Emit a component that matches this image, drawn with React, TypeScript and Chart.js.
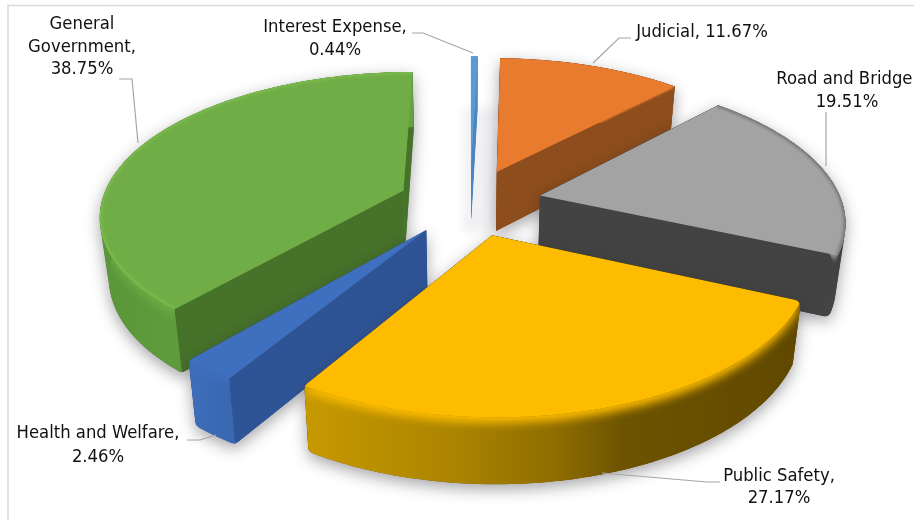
import React, { useEffect, useRef } from "react";
import { Chart, registerables } from "chart.js";

Chart.register(...registerables);

// Expenditure shares by department, in percent.
const categories = [
  "Interest Expense",
  "Judicial",
  "Road and Bridge",
  "Public Safety",
  "Health and Welfare",
  "General Government",
];
const shares = [0.44, 11.67, 19.51, 27.17, 2.46, 38.75];
const faceColors = ["#5B9BD5", "#E97B2F", "#A3A3A3", "#FDBC00", "#3F6FBF", "#70AD47"];

// Painter's order for the exploded slices, far to near.
const drawOrder = [0, 1, 5, 2, 4, 3];

const FONT = '18.3px "DejaVu Sans Condensed", "DejaVu Sans", sans-serif';

// Perspective of the tilted pie.
const view = { cx: 470, cy: 202, ax: 302, by: 141, k: 0.16, depth: 60, explode: 0.238 };

// Wall shading per slice: side-wall colour, x-positioned stops for the rim wall, bevel softness, edge light.
const walls = [
  { side: "#4A86C0", rim: [[460, "#4A86C0"], [480, "#4A86C0"]], bevel: 1, edge: "" },
  { side: "#8E4D1C", rim: [[500, "#8E4D1C"], [680, "#8E4D1C"]], bevel: 1, edge: "" },
  { side: "#434343", rim: [[780, "#5A5A5A"], [850, "#3C3C3C"]], bevel: 3, edge: "#757575" },
  { side: "#7A5C00", rim: [[307, "#C79900"], [454, "#AB8400"], [554, "#8F6E00"], [624, "#6D5300"], [800, "#604800"]], bevel: 5, edge: "" },
  { side: "#2F5496", rim: [[190, "#3E6DBA"], [240, "#3866B0"]], bevel: 4, edge: "" },
  { side: "#47722A", rim: [[100, "#5A9638"], [185, "#5F9D3E"]], bevel: 5, edge: "#7DBC4F" },
];

// Label anchors and leader polylines, in slice order.
const callouts = [
  { x: 335, y: [27, 50], lines: ["Interest Expense,", "0.44%"], leader: [[412, 33], [423, 33], [473, 53]] },
  { x: 702, y: [32], lines: ["Judicial, 11.67%"], leader: [[631, 38], [619, 38], [593, 63]] },
  { x: 847, y: [79, 102], lines: ["Road and Bridge,", "19.51%"], leader: [[826, 112], [826, 166]] },
  { x: 779, y: [476, 498], lines: ["Public Safety,", "27.17%"], leader: [[720, 482], [707, 482], [602, 473]] },
  { x: 98, y: [433, 457], lines: ["Health and Welfare,", "2.46%"], leader: [[187, 440], [200, 440], [216, 435]] },
  { x: 82, y: [24, 47, 69], lines: ["General", "Government,", "38.75%"], leader: [[119, 79], [132, 79], [138, 143]] },
];

const DEG = Math.PI / 180;

function project(mid: number, angle: number, r: number, z: number) {
  const X = view.explode * Math.sin(mid) + r * Math.sin(angle);
  const Y = -view.explode * Math.cos(mid) - r * Math.cos(angle);
  const w = 1 / (1 - view.k * Y);
  const zf = z / view.depth;
  const sx = view.cx + view.ax * X * w * (1 - 0.025 * zf);
  const sy = view.cy + view.by * Y * w + z * Math.sqrt(w);
  return [sx, sy];
}

function tracePoly(ctx: CanvasRenderingContext2D, pts: number[][]) {
  ctx.beginPath();
  pts.forEach((p, i) => (i ? ctx.lineTo(p[0], p[1]) : ctx.moveTo(p[0], p[1])));
  ctx.closePath();
}

function fillPoly(ctx: CanvasRenderingContext2D, pts: number[][], fill: string | CanvasGradient) {
  tracePoly(ctx, pts);
  ctx.fillStyle = fill;
  ctx.fill();
}

function arcPoints(mid: number, a0: number, a1: number, z: number, r = 1) {
  const n = Math.max(2, Math.ceil((a1 - a0) / DEG));
  const pts: number[][] = [];
  for (let i = 0; i <= n; i++) pts.push(project(mid, a0 + ((a1 - a0) * i) / n, r, z));
  return pts;
}

// Monotone-chain convex hull, used for the outline of a whole slice.
function hull(points: number[][]) {
  const p = [...points].sort((a, b) => a[0] - b[0] || a[1] - b[1]);
  const cross = (o: number[], a: number[], b: number[]) =>
    (a[0] - o[0]) * (b[1] - o[1]) - (a[1] - o[1]) * (b[0] - o[0]);
  const half = (list: number[][]) => {
    const out: number[][] = [];
    for (const q of list) {
      while (out.length >= 2 && cross(out[out.length - 2], out[out.length - 1], q) <= 0) out.pop();
      out.push(q);
    }
    out.pop();
    return out;
  };
  return [...half(p), ...half([...p].reverse())];
}

// Outline with the near corners rolled over and the far ones left crisp.
function traceRounded(ctx: CanvasRenderingContext2D, pts: number[][], apexY: number, crisp: number[], radius: number) {
  const n = pts.length;
  const m0 = [(pts[n - 1][0] + pts[0][0]) / 2, (pts[n - 1][1] + pts[0][1]) / 2];
  ctx.beginPath();
  ctx.moveTo(m0[0], m0[1]);
  for (let i = 0; i < n; i++) {
    const a = pts[i];
    const b = pts[(i + 1) % n];
    const r = a[1] > apexY && a !== crisp ? radius : 0.3;
    ctx.arcTo(a[0], a[1], (a[0] + b[0]) / 2, (a[1] + b[1]) / 2, r);
  }
  ctx.closePath();
}

const exploded3d = {
  id: "exploded3d",
  // The pie's own arcs supply the angles and colours; they are drawn as tilted solids here.
  beforeDatasetsDraw(chart: any) {
    const ctx: CanvasRenderingContext2D = chart.ctx;
    const arcs = chart.getDatasetMeta(0).data;

    ctx.save();
    ctx.filter = "blur(4px)";
    ctx.fillStyle = "rgba(120,120,140,0.10)";
    ctx.fillRect(463, 108, 40, 124);
    ctx.restore();

    for (const idx of drawOrder) {
      const el = arcs[idx];
      const { startAngle, endAngle } = el.getProps(["startAngle", "endAngle"], true);
      const a0 = startAngle + Math.PI / 2;
      const a1 = endAngle + Math.PI / 2;
      const mid = (a0 + a1) / 2;
      const style = walls[idx];
      const D = view.depth;
      const apex0 = project(mid, 0, 0, 0);
      const apexD = project(mid, 0, 0, D);
      const top = arcPoints(mid, a0, a1, 0);
      const bottom = arcPoints(mid, a0, a1, D);
      const face = el.options.backgroundColor;
      const outline = hull([apex0, apexD, ...top, ...bottom]);
      const radius = a1 - a0 < 5 * DEG ? 0.3 : 7;

      // Rim wall colouring with a horizontal light falloff.
      const stops = style.rim as [number, string][];
      const x0 = stops[0][0];
      const x1 = stops[stops.length - 1][0];
      const grad = ctx.createLinearGradient(x0, 0, x1, 0);
      stops.forEach(([x, c]) => grad.addColorStop((x - x0) / (x1 - x0), c));

      // Soft contact shadow under the slice.
      if (radius > 1) {
        ctx.save();
        ctx.shadowColor = "rgba(40,40,50,0.42)";
        ctx.shadowBlur = 15;
        ctx.shadowOffsetY = 5;
        traceRounded(ctx, outline, apex0[1], apexD, radius);
        ctx.fillStyle = style.side;
        ctx.fill();
        ctx.restore();
      }

      ctx.save();
      traceRounded(ctx, outline, apex0[1], apexD, radius);
      ctx.clip();
      ctx.fillStyle = grad;
      ctx.fill();

      // Radial side walls.
      fillPoly(ctx, [apex0, top[0], bottom[0], apexD], style.side);
      fillPoly(ctx, [apex0, top[top.length - 1], bottom[bottom.length - 1], apexD], style.side);

      // Rim band.
      fillPoly(ctx, [...top, ...[...bottom].reverse()], grad);

      // Bevel where the top face rolls over into the rim.
      ctx.save();
      tracePoly(ctx, [...top, ...[...bottom].reverse()]);
      ctx.clip();
      ctx.filter = `blur(${style.bevel}px)`;
      fillPoly(ctx, [apex0, ...arcPoints(mid, a0, a1, style.bevel)], face);
      ctx.restore();

      // Top face.
      fillPoly(ctx, [apex0, ...top], face);

      // Light or dark line along the outer edge of the face.
      if (style.edge) {
        ctx.save();
        tracePoly(ctx, [apex0, ...top]);
        ctx.clip();
        ctx.filter = "blur(1.5px)";
        ctx.strokeStyle = style.edge;
        ctx.lineWidth = 4;
        ctx.beginPath();
        top.forEach((p, i) => (i ? ctx.lineTo(p[0], p[1]) : ctx.moveTo(p[0], p[1])));
        ctx.stroke();
        ctx.restore();
      }
      ctx.restore();
    }
  },
  beforeDatasetDraw() {
    // The flat arcs are replaced by the solids above.
    return false;
  },
  afterDraw(chart: any) {
    const ctx: CanvasRenderingContext2D = chart.ctx;
    ctx.save();
    ctx.strokeStyle = "#D9D9D9";
    ctx.lineWidth = 1.5;
    ctx.strokeRect(8, 5.5, 920, 530);

    ctx.strokeStyle = "#A6A6A6";
    ctx.lineWidth = 1.2;
    ctx.fillStyle = "#111111";
    ctx.font = FONT;
    ctx.textAlign = "center";
    ctx.textBaseline = "middle";
    for (const c of callouts) {
      ctx.beginPath();
      c.leader.forEach((p, i) => (i ? ctx.lineTo(p[0], p[1]) : ctx.moveTo(p[0], p[1])));
      ctx.stroke();
      c.lines.forEach((t, i) => ctx.fillText(t, c.x, c.y[i]));
    }
    ctx.restore();
  },
};

export default function App() {
  const ref = useRef<HTMLCanvasElement>(null);
  useEffect(() => {
    const chart = new Chart(ref.current as HTMLCanvasElement, {
      type: "pie",
      data: {
        labels: categories,
        datasets: [{ data: shares, backgroundColor: faceColors, borderWidth: 0 }],
      },
      options: {
        animation: false,
        responsive: false,
        plugins: { legend: { display: false }, tooltip: { enabled: false } },
      },
      plugins: [exploded3d],
    } as any);
    return () => chart.destroy();
  }, []);
  return (
    <div style={{ position: "fixed", left: 0, top: 0, width: 914, height: 520, background: "#fff" }}>
      <canvas ref={ref} width={914} height={520} style={{ display: "block" }} />
    </div>
  );
}
